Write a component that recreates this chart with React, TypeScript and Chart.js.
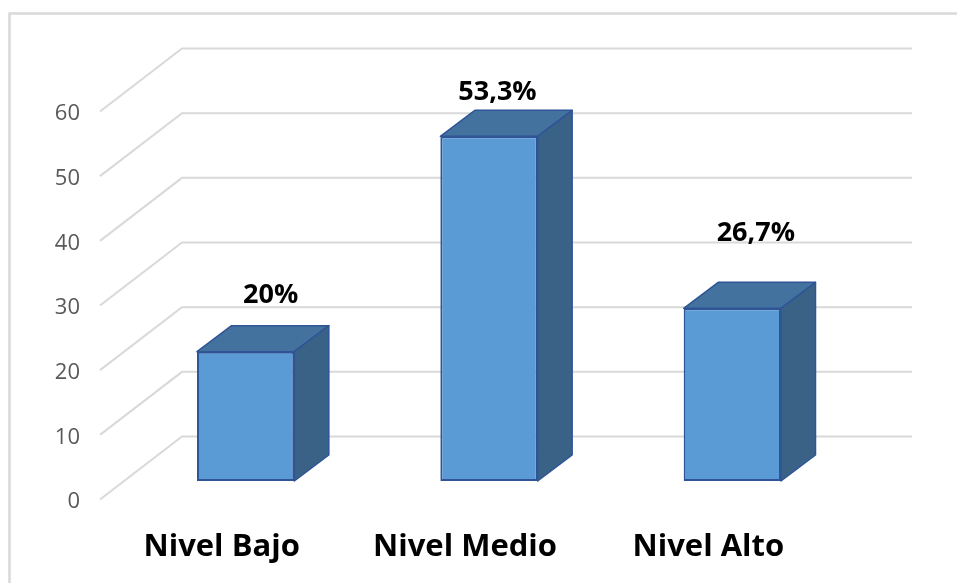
import { useEffect, useRef } from "react";
import { Chart, registerables } from "chart.js";

Chart.register(...registerables);

const categories = ["Nivel Bajo", "Nivel Medio", "Nivel Alto"];
const percentages = [20, 53.3, 26.7];
const yMin = 0;
const yMax = 60;
const yStep = 10;

// 3D geometry (pixels)
const FRONT_SHIFT = { dx: -24, dy: 18.5 };
const BACK_SHIFT = { dx: 58, dy: -44.5 };
const BAR_DEPTH = { dx: 34.5, dy: -26 };
const LABEL_SHIFT = [
  [25, -56],
  [8.5, -44],
  [23.5, -75],
];

const COLORS = {
  front: "#5B9BD5",
  top: "#42729D",
  side: "#3A6286",
  edge: "#2F5597",
  grid: "#D9D9D9",
  tick: "#595959",
};

const threeDPlugin = {
  id: "threeD",
  beforeDraw(chart: any) {
    const ctx = chart.ctx;
    ctx.save();
    ctx.fillStyle = "#FFFFFF";
    ctx.fillRect(0, 0, chart.width, chart.height);
    ctx.strokeStyle = COLORS.grid;
    ctx.lineWidth = 2.5;
    ctx.strokeRect(9.5, 13.5, 4000, 4000);
    ctx.restore();
  },
  beforeDatasetsDraw(chart: any) {
    const { ctx, chartArea } = chart;
    const y = chart.scales.y;
    ctx.save();
    ctx.strokeStyle = COLORS.grid;
    ctx.lineWidth = 2;
    y.ticks.forEach((t: any) => {
      const py = y.getPixelForValue(t.value);
      ctx.beginPath();
      ctx.moveTo(chartArea.left + FRONT_SHIFT.dx, py + FRONT_SHIFT.dy);
      ctx.lineTo(chartArea.left + BACK_SHIFT.dx, py + BACK_SHIFT.dy);
      ctx.lineTo(chartArea.right + BACK_SHIFT.dx, py + BACK_SHIFT.dy);
      ctx.stroke();
    });
    ctx.restore();
  },
  afterDatasetsDraw(chart: any) {
    const ctx = chart.ctx;
    const meta = chart.getDatasetMeta(0);
    const values = chart.data.datasets[0].data as number[];
    ctx.save();
    ctx.lineWidth = 1.5;
    ctx.strokeStyle = COLORS.edge;
    ctx.lineJoin = "round";
    meta.data.forEach((bar: any, i: number) => {
      const { x, y, base, width } = bar.getProps(["x", "y", "base", "width"], true);
      const l = x - width / 2;
      const r = x + width / 2;
      const dx = BAR_DEPTH.dx;
      const dy = BAR_DEPTH.dy;
      // top face
      ctx.beginPath();
      ctx.moveTo(l, y);
      ctx.lineTo(l + dx, y + dy);
      ctx.lineTo(r + dx, y + dy);
      ctx.lineTo(r, y);
      ctx.closePath();
      ctx.fillStyle = COLORS.top;
      ctx.fill();
      ctx.stroke();
      // side face
      ctx.beginPath();
      ctx.moveTo(r, y);
      ctx.lineTo(r + dx, y + dy);
      ctx.lineTo(r + dx, base + dy);
      ctx.lineTo(r, base);
      ctx.closePath();
      ctx.fillStyle = COLORS.side;
      ctx.fill();
      ctx.stroke();
      // value label
      const shift = LABEL_SHIFT[i] || [0, -40];
      ctx.fillStyle = "#000000";
      ctx.font = "bold 27px 'Open Sans'";
      ctx.textAlign = "center";
      ctx.textBaseline = "middle";
      const txt = String(values[i]).replace(".", ",") + "%";
      ctx.fillText(txt, x + shift[0], y + shift[1]);
    });
    ctx.restore();
  },
};

export default function App() {
  const canvasRef = useRef<HTMLCanvasElement | null>(null);

  useEffect(() => {
    if (!canvasRef.current) return;
    const chart = new Chart(canvasRef.current, {
      type: "bar",
      data: {
        labels: categories,
        datasets: [
          {
            data: percentages,
            backgroundColor: COLORS.front,
            borderColor: COLORS.edge,
            borderWidth: 2,
            borderSkipped: false,
            barPercentage: 0.4,
            categoryPercentage: 1,
          },
        ],
      },
      options: {
        animation: false,
        responsive: true,
        maintainAspectRatio: false,
        layout: { padding: { top: 93, right: 103, left: 0, bottom: 0 } },
        plugins: {
          legend: { display: false },
          tooltip: { enabled: false },
        },
        scales: {
          x: {
            grid: { display: false, drawTicks: false },
            border: { display: false },
            ticks: {
              color: "#000000",
              font: { family: "'Open Sans'", size: 31, weight: "bold" },
              labelOffset: -24,
              padding: 48,
              maxRotation: 0,
              autoSkip: false,
            },
            afterFit(scale: any) {
              scale.height = 102;
            },
          },
          y: {
            min: yMin,
            max: yMax,
            grid: { display: false, drawTicks: false },
            border: { display: false },
            ticks: {
              stepSize: yStep,
              color: COLORS.tick,
              font: { family: "'Open Sans'", size: 22 },
              labelOffset: 21,
              padding: 44,
            },
            afterFit(scale: any) {
              scale.width = 124;
            },
          },
        },
      },
      plugins: [threeDPlugin],
    });
    return () => chart.destroy();
  }, []);

  return (
    <div style={{ position: "fixed", left: 0, top: 0, width: 957, height: 583, background: "#fff" }}>
      <canvas ref={canvasRef} />
    </div>
  );
}
